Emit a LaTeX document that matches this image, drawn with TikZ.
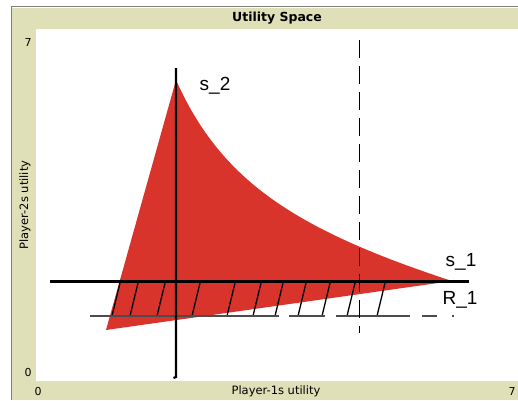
\documentclass[tikz,border=0pt]{standalone}
\usepackage{fontspec}
\setmainfont{DejaVu Sans}
\newfontfamily\arialf{Liberation Sans}
\definecolor{panel}{RGB}{224,224,184}
\definecolor{redfill}{RGB}{216,52,44}
\definecolor{frameline}{RGB}{128,128,128}
\begin{document}
\begin{tikzpicture}[x=1pt,y=-1pt,
  paneltext/.style={font=\fontsize{11.5}{13}\selectfont, inner sep=0pt},
  ticktext/.style={font=\fontsize{11}{13}\selectfont, inner sep=0pt},
  curvelabel/.style={font=\arialf\fontsize{19}{22}\selectfont, inner sep=0pt},
  hatchline/.style={black, line width=1.3pt},
  axisline/.style={black, line width=2.2pt},
  rline/.style={black!70, line width=1.3pt},
  vdash/.style={black, line width=1.2pt, dash pattern=on 18pt off 8pt}]
\useasboundingbox (0,0) rectangle (518,400);
\fill[white] (0,0) rectangle (518,400);
\fill[panel] (12,8) rectangle (518,400);
\draw[frameline, line width=1.5pt] (11.5,400) -- (11.5,6.5) -- (518,6.5);
\fill[white] (36,29) rectangle (518,381);
% feasible region
\fill[redfill] (106,330) -- (176,80) .. controls (220,178) and (290,228) .. (452,281) -- cycle;
% hatching
\foreach \b in {112,130,157,192,227,253,275,298,322,347,377}
  \draw[hatchline] (\b,316) -- (\b+8,283);
% R_1 line
\draw[rline] (90,316) -- (279,316);
\draw[rline] (289,316) -- (325,316);
\draw[rline] (336,316) -- (410,316);
\draw[rline] (422,316) -- (437,316);
\draw[rline] (452,316) -- (454,316);
% vertical dashed line
\draw[vdash] (359.5,40) -- (359.5,333);
% axes
\draw[axisline] (176,68) -- (176,377) -- (173.5,378);
\draw[axisline] (50,281.5) -- (469,281.5);
% labels
\node[curvelabel] (s2) at (215,86) {s\_2};
\node[curvelabel] (s1) at (461,262) {s\_1};
\node[curvelabel] (r1) at (460,300) {R\_1};
\node[paneltext, font=\bfseries\fontsize{12.5}{14}\selectfont] (title) at (277,18) {Utility Space};
\node[paneltext] (xlab) at (276,391) {Player-1s utility};
\node[paneltext, rotate=90] (ylab) at (25,205) {Player-2s utility};
\node[ticktext] (y7) at (28,42) {7};
\node[ticktext] (y0) at (28,372) {0};
\node[ticktext] (x0) at (38,391) {0};
\node[ticktext] (x7) at (512,391) {7};
\end{tikzpicture}
\end{document}
